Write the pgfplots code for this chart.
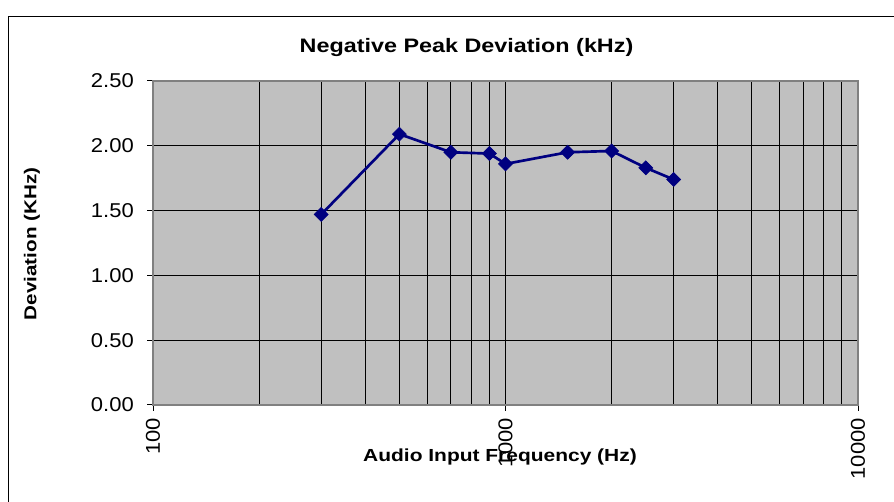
\documentclass[border=0pt]{standalone}
\usepackage{pgfplots}
\pgfplotsset{compat=1.18}
\usepackage{fontspec}
\setmainfont{Liberation Sans}[FakeStretch=1.2]
\newfontfamily\tickfont{Liberation Sans}[FakeStretch=1.1]
\definecolor{plotgray}{HTML}{C0C0C0}
\definecolor{framegray}{HTML}{808080}
\definecolor{navyline}{HTML}{000080}
\begin{document}
\begin{tikzpicture}
\useasboundingbox (0pt,0pt) rectangle (670.5pt,376.5pt);
\draw[black, line width=0.75pt] (6pt,-10pt) -- (6pt,363.75pt) -- (690pt,363.75pt);
\begin{axis}[
  at={(114.75pt,72.75pt)}, anchor=south west,
  scale only axis, width=528.75pt, height=243pt,
  xmode=log, log basis x=10,
  xmin=100, xmax=10000, ymin=0, ymax=2.5,
  xtick={100,1000,10000}, xticklabels={100,1000,10000},
  minor xtick={200,300,400,500,600,700,800,900,2000,3000,4000,5000,6000,7000,8000,9000},
  ytick={0,0.5,1,1.5,2,2.5},
  yticklabel style={/pgf/number format/fixed, /pgf/number format/fixed zerofill, /pgf/number format/precision=2, xshift=-9.75pt},
  /pgf/number format/assume math mode=true,
  axis background/.style={fill=plotgray},
  grid=both,
  major grid style={black, line width=0.75pt},
  minor grid style={black, line width=0.75pt},
  axis line style={draw=framegray, line width=1.5pt},
  tick style={black, line width=0.75pt},
  major tick length=4.5pt, minor tick length=0pt,
  tick align=outside,
  xtick pos=bottom, ytick pos=left,
  ticklabel style={font=\fontsize{15}{17}\tickfont, inner sep=0pt},
  xticklabel style={yshift=-5.25pt, rotate=90, anchor=east},
  clip=false,
]
\addplot[navyline, line width=2pt, mark=square*, mark size=3.7pt,
  mark options={rotate=45, fill=navyline, draw=navyline, line width=0.5pt}]
  coordinates {
  (300,1.47) (500,2.09) (700,1.95) (900,1.94) (1000,1.86)
  (1500,1.95) (2000,1.96) (2500,1.83) (3000,1.74)
  };
\end{axis}
\node[font=\fontsize{14.6}{17}\selectfont\bfseries] at (349.9pt,340.5pt) {Negative Peak Deviation (kHz)};
\node[font=\fontsize{12.9}{15}\selectfont\bfseries, rotate=90] at (24pt,193.5pt) {Deviation (KHz)};
\node[font=\fontsize{13.1}{15}\selectfont\bfseries] at (375pt,33.75pt) {Audio Input Frequency (Hz)};
\end{tikzpicture}
\end{document}
